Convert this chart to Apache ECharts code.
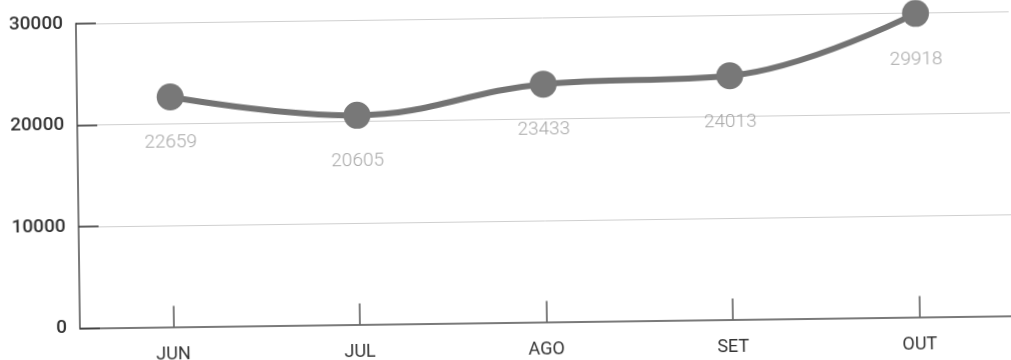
<!DOCTYPE html>
<html>
<head>
<meta charset="utf-8">
<title>Mensal</title>
<script src="https://cdn.jsdelivr.net/npm/echarts@6/dist/echarts.min.js"></script>
<style>
  html, body { margin: 0; padding: 0; background: #fff; overflow: hidden; }
  #chart { width: 1011px; height: 360px; transform: rotate(-0.76deg); transform-origin: 505px 180px; }
</style>
</head>
<body>
<div id="chart"></div>
<script>
// Monthly totals, June to October
const months = ['JUN', 'JUL', 'AGO', 'SET', 'OUT'];
const totals = [22659, 20605, 23433, 24013, 29918];
const yTicks = [0, 10000, 20000, 30000];

const chart = echarts.init(document.getElementById('chart'), null, { renderer: 'canvas' });

chart.setOption({
  backgroundColor: '#ffffff',
  animation: false,
  grid: { left: 78, top: 18, width: 946, height: 304.5, containLabel: false },
  xAxis: {
    type: 'category',
    data: months,
    boundaryGap: true,
    axisLine: { show: true, lineStyle: { color: '#7a7a7a', width: 2 } },
    axisTick: { show: true, inside: true, length: 21, alignWithLabel: true, lineStyle: { color: '#555', width: 1.5 } },
    axisLabel: { color: '#333', fontFamily: 'Roboto', fontSize: 18, margin: 19 },
    splitLine: { show: false }
  },
  yAxis: {
    type: 'value',
    min: yTicks[0],
    max: yTicks[yTicks.length - 1],
    interval: yTicks[1] - yTicks[0],
    axisLine: { show: true, lineStyle: { color: '#7a7a7a', width: 2 } },
    axisTick: { show: true, inside: true, length: 20, lineStyle: { color: '#333', width: 1.5 } },
    axisLabel: {
      color: '#333', fontFamily: 'Roboto', fontSize: 19, fontWeight: 500, margin: 13,
      formatter: (v) => String(v)
    },
    splitLine: { show: true, lineStyle: { color: '#cfcfcf', width: 1 } }
  },
  series: [{
    type: 'line',
    data: totals,
    smooth: 0.4,
    clip: false,
    symbol: 'circle',
    symbolSize: 27,
    lineStyle: { color: '#737373', width: 6 },
    itemStyle: { color: '#787878' },
    label: {
      show: true,
      position: 'bottom',
      distance: 23,
      color: '#a8a8a8',
      fontFamily: 'Roboto',
      fontWeight: 300,
      fontSize: 19
    }
  }]
});
</script>
</body>
</html>
